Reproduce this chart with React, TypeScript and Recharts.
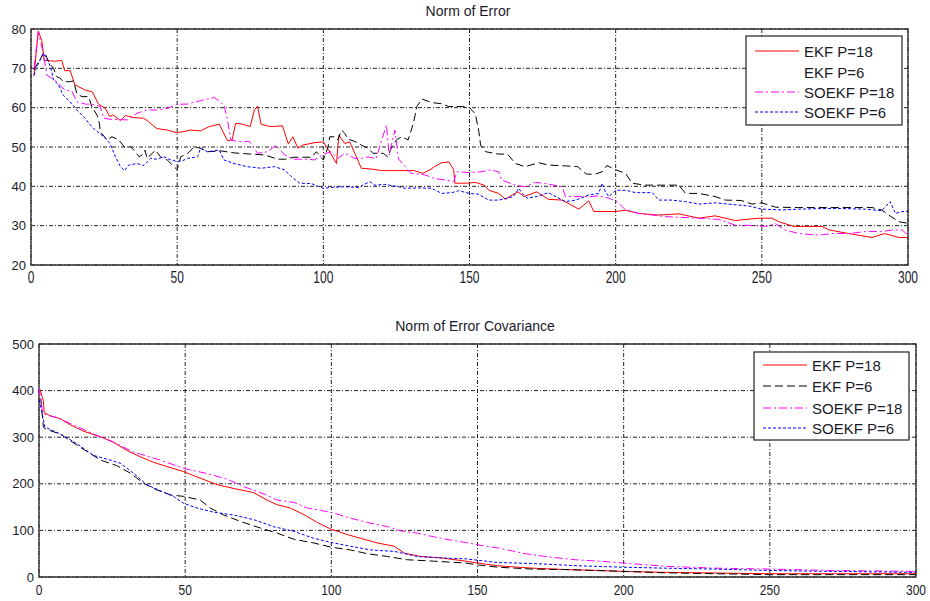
import React from "react";
import { LineChart, Line, XAxis, YAxis, CartesianGrid, ReferenceArea } from "recharts";

type Pt = [number, number];

// ---- Norm of Error ----
const ekf18Error: Pt[] = [[1,68],[2.5,79.5],[3.7,77],[4.5,72],[5.4,72],[8,71.8],[10.5,72],[11.5,69.4],[13.4,69.4],[15,65.8],[18.5,64.5],[21,64],[23,61],[25.4,59.8],[27,57.7],[28,58.2],[30.6,56.7],[32.3,58],[35,57.5],[38.6,57.3],[40.3,56.4],[43,54.7],[46.6,54.3],[50,53.6],[54.6,54.3],[58,54.1],[61,55.2],[64.4,55.8],[67.2,51.6],[68.8,51.8],[70,56],[72.3,55.8],[75,55.2],[76.4,59.4],[77.5,60.4],[78.7,55.8],[81,55.3],[83,55.2],[86,55.4],[88,50.8],[89.6,52.6],[91.3,49.7],[93,50.5],[97,51.1],[100,51.3],[102,49],[104.5,45.8],[105.3,53],[107.3,50.9],[109,51.3],[111,48],[113,44.6],[116.5,44.4],[120,44],[131,44],[134,43.3],[136.5,44.2],[138,45],[140.5,46],[143,46.2],[144.6,44.2],[145,40.8],[149,40.8],[152,41],[155,40.3],[156.6,39],[160,38.2],[162.3,36.7],[164.6,37.8],[166.6,38.6],[168.6,37.4],[173,38.6],[177,36.7],[181.7,36.5],[187.4,34.2],[190.8,36.3],[192.5,33.6],[196,33.6],[200,33.6],[203.4,33.9],[208,33.1],[214.8,32.7],[221.6,33],[228.5,31.9],[234,32.5],[241,31.3],[249,31.9],[253.5,31.9],[255.8,31],[261,29.8],[270.6,29.8],[273,28.9],[279.7,28],[287.7,27],[292,28],[296.9,27],[300,27]];

const ekf6Error: Pt[] = [[1,69.6],[4.6,74.2],[6,71.7],[7.7,70],[8.8,67.9],[10,67.5],[11,66.6],[13.4,66.6],[14.5,66.8],[15.7,63.6],[17.4,62.8],[19.7,62.8],[20.8,60.3],[22.6,58.1],[23.4,56],[23.7,53.9],[26,51.8],[27.7,52.6],[30,51.8],[32.3,49.7],[34,50.1],[35.2,49.2],[37,47.5],[38.6,48.3],[39,49.2],[39.7,47.1],[42.6,49.2],[44.3,47.5],[46.6,46.7],[50,44.2],[51.2,47.5],[53.5,48.3],[55.8,50],[58,49.7],[60.4,48.8],[65,49],[69.5,48.5],[75,48.2],[79.8,48],[84.4,46.9],[87,46.9],[90,47.4],[96,47.4],[97.6,48.8],[100,46.7],[101.6,50],[102.2,52.6],[104,52.6],[105,51.8],[106.2,54.3],[107.3,53.5],[108.5,52],[110.8,51.4],[113,50.5],[115.3,49.7],[117,48.4],[120.5,48.4],[122,47.5],[123.4,50],[125,51.8],[126.8,52.6],[129,51.8],[130.8,56],[132,60.3],[133.7,62.2],[137,61.3],[140.5,61],[142.8,60.3],[147.4,60.3],[150,60],[152,58.4],[153.2,53.9],[153.8,50.5],[155.5,48.8],[160,48.2],[163,48.2],[165.7,45.8],[169,45],[173.7,46],[177,45.4],[182.8,45.2],[187,45],[190,43.1],[193,43.1],[195.4,43.7],[197,45.3],[200,44.2],[203.4,43.3],[205.6,40.8],[210,40.3],[217,40.3],[221.6,40.3],[223.9,38.2],[228.4,38.2],[234,37.4],[237.6,36.5],[243,36.4],[246.6,35.5],[250,35.8],[254.7,34.7],[262.6,34.6],[274,34.6],[287.7,34.6],[291,34],[293.4,32.7],[296.9,31],[300,30.6]];

const soekf18Error: Pt[] = [[1,70],[2.5,79.3],[4.2,73.8],[5.4,68.3],[7.1,67.5],[8.8,66.6],[10.5,65.2],[11.7,64.5],[14,64.2],[15.7,61.5],[18.6,60.9],[20.5,60.9],[23.7,60.3],[24.9,57.3],[27.7,57],[33,56.9],[36.3,58.6],[39.7,59.4],[43.2,59.4],[46.6,59.8],[50,60.9],[53.5,60.9],[58,61.8],[62.7,62.6],[66,60.7],[67.2,56.9],[68.4,51.8],[70.7,51.4],[74.7,51.4],[77.5,48.4],[81,48.8],[83.8,50.5],[86.7,48],[90,46.9],[94.7,46.9],[97,46.7],[100,48.2],[102.7,48.8],[105,47.1],[107.3,48.4],[110.8,47.1],[113,47.1],[115.3,47.5],[118,47],[120,51.8],[121.6,55.6],[122.5,48],[124.5,54.3],[125.7,47],[128,45],[130,43.3],[134.8,42.9],[138,42],[141.7,41.6],[144.6,41.2],[145.7,43.7],[150,43.5],[154,43.7],[157,44.2],[160,43.7],[161,41.6],[165.7,40.3],[169,39.9],[172.6,41],[176,40.7],[181.7,39.9],[182.8,37.4],[187.4,37.4],[192,37.4],[194.2,37.6],[197.7,37],[200.5,36.1],[203.4,34],[208,33.1],[212.5,32.7],[217,32.3],[222.7,32.1],[228.5,31.9],[235.3,31.6],[241,30.1],[245.6,30.1],[251.3,29.8],[254.7,30.5],[258,28.9],[262.6,28],[269.5,27.6],[274,28],[279.7,28],[285.4,28.5],[291,28.5],[294.6,28.9],[298,28.9],[300,27.6]];

const soekf6Error: Pt[] = [[1,68.3],[2,70.4],[4.2,73.8],[6,71.7],[7.1,69.2],[7.7,67],[9.4,65.8],[11,63.2],[13.4,61.5],[15.7,59.4],[18,57.7],[20.3,55.6],[22,54.3],[24.9,52.6],[27,50.9],[28.9,47.5],[30.6,45],[32,44],[33.4,45.4],[36.3,45.8],[38.6,45.3],[40.9,47.1],[43,46.9],[45.5,47.5],[47.8,46.7],[50,46.3],[51.8,46.5],[53.5,47.1],[57,47.5],[58,49.7],[60.4,48.8],[64.4,49.2],[66,46.7],[69.5,45.8],[74,45],[78.7,44.6],[83.3,45],[86.7,44.2],[89,42.5],[91.9,40.8],[95.9,40.7],[100,39.5],[102.7,39.7],[107.3,39.9],[111.9,39.7],[115.9,41.2],[117.6,40.3],[121,40.5],[125.7,39.9],[128,39.5],[132.5,39.6],[137,39.5],[140.5,38.2],[144,38.4],[146.3,38.9],[150,38.2],[153,38],[156.6,36.5],[160,36.5],[162.3,36.9],[165,37.4],[166.9,39.5],[168,38.2],[169.7,37],[173,37.4],[177,38.4],[182.8,36.1],[186.3,36.5],[190.8,37.8],[194.2,38.2],[195.4,40.8],[196.5,38.6],[197.7,37.4],[200,39],[203.4,39],[206.8,38.4],[212.5,38.4],[214.8,36.5],[219.3,36.5],[223.9,36.1],[228.5,35.5],[234,35.8],[239.8,35.4],[245.5,35],[250,34.2],[257,34],[262.6,34.2],[274,34.4],[285.4,34.2],[291,33.8],[293.9,36.1],[295.7,33.1],[298,33.6],[300,33.6]];

// ---- Norm of Error Covariance ----
const ekf18Cov: Pt[] = [[0.3,403],[1.5,378],[1.8,353],[3.8,346],[7.2,340],[10.6,327],[15.2,313],[21,301],[25.5,289],[30,272],[34.6,258],[39.2,246],[43.8,237],[49.5,226],[55.2,212],[61,198],[66.6,190],[73.5,181],[78,165],[81.5,155],[86,148],[90.6,134],[95.2,117],[99.8,103],[105.5,91],[110,83],[115.8,73],[121.5,66],[125,51],[130.6,44],[137.5,41],[146,34],[150,30],[157,24],[168.7,19],[180,16],[191.5,14],[200,12],[214,10],[231,8.6],[250,7],[271,7],[300,7]];

const ekf6Cov: Pt[] = [[0.6,383],[1.5,322],[2,318],[7.2,307],[14,279],[21,251],[26.6,239],[31.2,223],[35.8,201],[40.3,187],[45,176],[49.5,173],[55.2,165],[58.6,148],[63.2,133],[69,119],[75.8,105],[81.5,94],[87.2,81],[94,73],[100,64],[106.6,58],[112.3,50],[119.2,44],[126,37],[135,34],[146,30],[150,26],[157,21],[168.7,17],[180,16],[200,12],[214,9],[250,5],[300,5]];

const soekf18Cov: Pt[] = [[0,406],[1.2,356],[2,349],[7,340],[13,323],[18.6,307],[24.3,293],[32.3,268],[41.5,251],[49.5,233],[57.5,222],[64.3,210],[70,194],[77,178],[81.5,165],[87.2,160],[91.8,148],[96.3,143],[101,137],[105.5,128],[112.3,117],[119.2,108],[123.8,99],[129.5,94],[135.2,86],[142,78],[146,74],[150,69],[157.3,62],[166.4,50],[174.4,43],[183.5,37],[191.5,34],[200,30],[214.2,23],[231.3,19],[250,17],[271.3,14],[300,12]];

const soekf6Cov: Pt[] = [[0.1,380],[1.2,347],[2,322],[7.2,307],[13,286],[18.6,261],[24.3,251],[27.8,244],[32.3,223],[36.9,198],[41.5,185],[46,173],[49.5,158],[54,148],[59.8,139],[66.6,133],[73.5,123],[80.3,108],[87.2,98],[94,83],[100,74],[106.6,66],[113.5,58],[121.5,55],[129.5,44],[137.5,41],[146,39],[150,36],[157,31],[168.7,29],[184.7,24],[200,21],[214,19],[231,17],[250,14],[271,12],[300,10]];

const xTicks = [0, 50, 100, 150, 200, 250, 300];
const errorTicks = [20, 30, 40, 50, 60, 70, 80];
const covTicks = [0, 100, 200, 300, 400, 500];
const seriesNames = ["EKF P=18", "EKF P=6", "SOEKF P=18", "SOEKF P=6"];

const FONT = "'Liberation Sans', Arial, sans-serif";
const TEXT = "#1a1a2a";

const styles = [
  { color: "#ff0000", dash: undefined as string | undefined },
  { color: "#000000", dash: "8 4" },
  { color: "#ff00ff", dash: "8 3 2 3" },
  { color: "#0000ff", dash: "3 2" },
];

const toRows = (pts: Pt[]) => pts.map(([x, y]) => ({ x, y }));

const XTick = (props: any) => {
  const { x, y, payload, dy, sy } = props;
  return (
    <text
      transform={`translate(${x},${y + dy}) scale(1,${sy})`}
      textAnchor="middle"
      dominantBaseline="central"
      fontSize={12}
      fontFamily={FONT}
      fill={TEXT}
    >
      {payload.value}
    </text>
  );
};

const YTick = (props: any) => {
  const { x, y, payload } = props;
  return (
    <text x={x} y={y} textAnchor="end" dominantBaseline="central" fontSize={13} fontFamily={FONT} fill={TEXT}>
      {payload.value}
    </text>
  );
};

function LegendBox({ left, top, width, height, rows, hidden }: { left: number; top: number; width: number; height: number; rows: number[]; hidden: number[] }) {
  return (
    <svg style={{ position: "absolute", left, top }} width={width + 2} height={height + 2}>
      <rect x={1} y={1} width={width} height={height} fill="#fff" stroke="#222" strokeWidth={1.2} />
      {seriesNames.map((name, i) => (
        <g key={name}>
          {!hidden.includes(i) && (
            <line x1={10} x2={54} y1={rows[i]} y2={rows[i]} stroke={styles[i].color} strokeWidth={1} strokeDasharray={styles[i].dash} />
          )}
          <text x={59} y={rows[i]} dominantBaseline="central" fontSize={15} fontFamily={FONT} fill={TEXT}>
            {name}
          </text>
        </g>
      ))}
    </svg>
  );
}

function Panel(props: {
  top: number;
  height: number;
  margin: { top: number; right: number; bottom: number; left: number };
  yWidth: number;
  yDomain: [number, number];
  yTicks: number[];
  series: Pt[][];
  xDy: number;
  xSy: number;
}) {
  const { top, height, margin, yWidth, yDomain, yTicks, series, xDy, xSy } = props;
  return (
    <div style={{ position: "absolute", left: 0, top }}>
      <LineChart width={930} height={height} margin={margin}>
        <CartesianGrid stroke="#222" strokeDasharray="4 2 1 2" strokeWidth={1} />
        <XAxis
          type="number"
          dataKey="x"
          domain={[0, 300]}
          ticks={xTicks}
          allowDataOverflow
          axisLine={false}
          tickLine={false}
          tickSize={0}
          tickMargin={0}
          height={20}
          tick={<XTick dy={xDy} sy={xSy} />}
        />
        <YAxis
          type="number"
          domain={yDomain}
          ticks={yTicks}
          allowDataOverflow
          axisLine={false}
          tickLine={false}
          tickSize={0}
          tickMargin={5}
          width={yWidth}
          tick={<YTick />}
        />
        {series.map((pts, i) => (
          <Line
            key={seriesNames[i]}
            data={toRows(pts)}
            dataKey="y"
            name={seriesNames[i]}
            type="linear"
            stroke={styles[i].color}
            strokeWidth={1}
            strokeDasharray={styles[i].dash}
            dot={false}
            activeDot={false}
            isAnimationActive={false}
          />
        ))}
        <ReferenceArea x1={0} x2={300} y1={yDomain[0]} y2={yDomain[1]} fill="none" stroke="#333" strokeWidth={1.4} ifOverflow="visible" />
      </LineChart>
    </div>
  );
}

export default function App() {
  return (
    <div style={{ position: "absolute", left: 0, top: 0, width: 930, height: 601, background: "#fff", overflow: "hidden" }}>
      <div style={{ position: "absolute", left: 0, top: 3, width: 930, textAlign: "center", fontFamily: FONT, fontSize: 14, color: TEXT, paddingLeft: 6, boxSizing: "border-box" }}>
        Norm of Error
      </div>
      <Panel
        top={0}
        height={290}
        margin={{ top: 29, right: 22, bottom: 5, left: 3 }}
        yWidth={28}
        yDomain={[20, 80]}
        yTicks={errorTicks}
        series={[ekf18Error, ekf6Error, soekf18Error, soekf6Error]}
        xDy={11.5}
        xSy={1.45}
      />
      <LegendBox left={745} top={35} width={156} height={89} rows={[16, 37, 57, 77]} hidden={[1]} />

      <div style={{ position: "absolute", left: 0, top: 318, width: 930, textAlign: "center", fontFamily: FONT, fontSize: 14, color: TEXT, paddingLeft: 20, boxSizing: "border-box" }}>
        Norm of Error Covariance
      </div>
      <Panel
        top={300}
        height={301}
        margin={{ top: 44, right: 14, bottom: 4, left: 5 }}
        yWidth={34}
        yDomain={[0, 500]}
        yTicks={covTicks}
        series={[ekf18Cov, ekf6Cov, soekf18Cov, soekf6Cov]}
        xDy={13.5}
        xSy={1.25}
      />
      <LegendBox left={753} top={351} width={155} height={88} rows={[14, 35, 57, 77]} hidden={[]} />
    </div>
  );
}
